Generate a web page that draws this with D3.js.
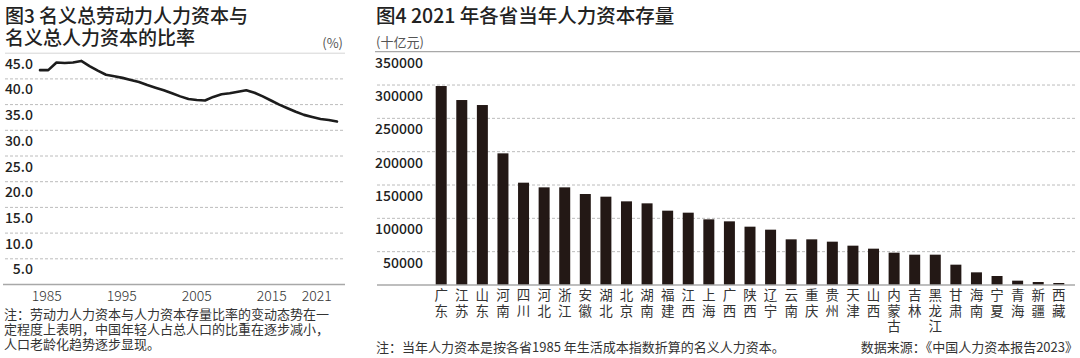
<!DOCTYPE html>
<html><head><meta charset="utf-8">
<script src="https://cdn.jsdelivr.net/npm/d3@7/dist/d3.min.js"></script>
<style>
html,body{margin:0;padding:0;background:#fff;}
svg{display:block;}
text{font-family:"Noto Sans CJK SC","Noto Sans",sans-serif;}
</style></head>
<body>
<svg id="c" width="1080" height="358"></svg>
<script>
// ---- Data: left chart (ratio, %) ----
const years = d3.range(1985, 2022);
const ratio = [41.7,41.7,43.2,43.1,43.2,43.5,42.5,41.6,40.8,40.5,40.2,39.8,39.4,38.8,38.3,37.8,37.2,36.6,36.1,35.9,35.8,36.5,37.0,37.2,37.5,37.8,37.3,36.6,35.8,35.0,34.3,33.6,33.0,32.6,32.2,32.0,31.7];
const leftYTicks = [5,10,15,20,25,30,35,40,45];
const leftXTicks = [1985,1995,2005,2015,2021];
const leftTitle = ["图3 名义总劳动力人力资本与","名义总人力资本的比率"];
const leftNote = ["注：劳动力人力资本与人力资本存量比率的变动态势在一","定程度上表明，中国年轻人占总人口的比重在逐步减小，","人口老龄化趋势逐步显现。"];

// ---- Data: right chart (human capital stock, 十亿元) ----
const provinces = ["广东","江苏","山东","河南","四川","河北","浙江","安徽","湖北","北京","湖南","福建","江西","上海","广西","陕西","辽宁","云南","重庆","贵州","天津","山西","内蒙古","吉林","黑龙江","甘肃","海南","宁夏","青海","新疆","西藏"];
const stock = [298500,277500,270000,197500,153500,146500,146500,136500,132500,125500,122500,111500,108500,98500,95500,87500,83000,68500,68500,65000,59000,54500,48500,45500,45500,30500,19000,13500,6500,4500,3000];
const rightYTicks = [50000,100000,150000,200000,250000,300000,350000];

const svg = d3.select("#c");
const ink = "#222";
const noteFont = "'Liberation Sans','Noto Sans CJK SC',sans-serif";

// ================= LEFT CHART =================
const yL = d3.scaleLinear().domain([0,45]).range([284.5,53.2]);
const xL = d3.scaleLinear().domain([1985,2021]).range([40,337]);
const xLab = d3.scaleLinear().domain([1985,2015]).range([46.7,271.7]);

svg.selectAll("text.tl").data(leftTitle).join("text")
  .attr("x",5).attr("y",(d,i)=>14+i*22.5).attr("dominant-baseline","central")
  .attr("font-size",19).attr("font-weight",500).attr("fill",ink).text(d=>d);
svg.append("text").attr("x",343).attr("y",42.7).attr("text-anchor","end").attr("dominant-baseline","central")
  .attr("font-size",13).attr("fill","#555").text("(%)");

// gridlines
const gL = svg.append("g");
gL.selectAll("line.g").data(leftYTicks).join("line")
  .attr("x1",5).attr("x2",345)
  .attr("y1",d=>yL(d)).attr("y2",d=>yL(d))
  .attr("stroke",d=>d===45?"#d6d6d6":"#bcbcbc")
  .attr("stroke-dasharray",d=>d===45?null:"3,2")
  .attr("stroke-width",1);
gL.selectAll("text.yl").data(leftYTicks).join("text")
  .attr("x",33).attr("y",d=>yL(d)+9.5).attr("text-anchor","end").attr("dominant-baseline","central")
  .attr("font-family","Roboto,sans-serif").attr("font-size",14).attr("font-weight",500).attr("fill",ink)
  .text(d=>d3.format(".1f")(d));
// baseline
svg.append("line").attr("x1",3).attr("x2",345).attr("y1",yL(0)).attr("y2",yL(0))
  .attr("stroke","#a8a8a8").attr("stroke-width",1.5);
// x labels
svg.selectAll("text.xl").data(leftXTicks).join("text")
  .attr("x",d=>xLab(d)).attr("y",295).attr("text-anchor","middle").attr("dominant-baseline","central")
  .attr("font-family","Roboto,sans-serif").attr("font-size",14).attr("font-weight",300).attr("fill","#333")
  .text(d=>d);
// line
svg.append("path").datum(years.map((y,i)=>[y,ratio[i]]))
  .attr("fill","none").attr("stroke","#1c1c1c").attr("stroke-width",2.6)
  .attr("stroke-linejoin","round").attr("stroke-linecap","round")
  .attr("d",d3.line().x(d=>xL(d[0])).y(d=>yL(d[1])));

// left footnote
svg.selectAll("text.nl").data(leftNote).join("text")
  .attr("x",4).attr("y",(d,i)=>313.5+i*15).attr("dominant-baseline","central")
  .attr("font-family",noteFont)
  .attr("font-size",13).attr("fill","#333").text(d=>d);

// ================= RIGHT CHART =================
const yR = d3.scaleLinear().domain([0,350000]).range([285,51.7]);
const xR = d3.scaleBand().domain(provinces).range([435.7,1064.3]).paddingInner(0.466).paddingOuter(0);

svg.append("text").attr("x",376).attr("y",14.3).attr("dominant-baseline","central")
  .attr("font-size",19.5).attr("font-weight",500).attr("fill",ink).text("图4 2021 年各省当年人力资本存量");
svg.append("text").attr("x",376).attr("y",41.7).attr("dominant-baseline","central")
  .attr("font-size",13).attr("fill","#555").text("(十亿元)");

const gR = svg.append("g");
gR.selectAll("line").data(rightYTicks).join("line")
  .attr("x1",d=>d===350000?375:377).attr("x2",d=>d===350000?1080:1075)
  .attr("y1",d=>yR(d)).attr("y2",d=>yR(d))
  .attr("stroke",d=>d===350000?"#a8a8a8":"#bcbcbc")
  .attr("stroke-dasharray",d=>d===350000?null:"3,2")
  .attr("stroke-width",d=>d===350000?1.3:1);
gR.selectAll("text").data(rightYTicks).join("text")
  .attr("x",423).attr("y",d=>yR(d)+10).attr("text-anchor","end").attr("dominant-baseline","central")
  .attr("font-family","Roboto,sans-serif").attr("font-size",14).attr("font-weight",500).attr("fill",ink)
  .text(d=>d);

// bars
svg.selectAll("rect.bar").data(provinces).join("rect")
  .attr("x",d=>xR(d)).attr("width",xR.bandwidth())
  .attr("y",(d,i)=>yR(stock[i])).attr("height",(d,i)=>yR(0)-yR(stock[i]))
  .attr("fill","#231815");
// axis
svg.append("line").attr("x1",377).attr("x2",1075).attr("y1",yR(0)).attr("y2",yR(0))
  .attr("stroke","#a8a8a8").attr("stroke-width",1.5);
// category labels (vertical writing mode, one text per province)
svg.selectAll("text.cat").data(provinces).join("text")
  .attr("class","cat")
  .attr("x",d=>xR(d)+xR.bandwidth()/2).attr("y",288.2)
  .style("writing-mode","vertical-rl").style("text-orientation","upright")
  .attr("letter-spacing",2)
  .attr("font-size",13.5).attr("fill","#333")
  .text(d=>d);

// right footnotes
svg.append("text").attr("x",376).attr("y",346.7).attr("dominant-baseline","central")
  .attr("font-family",noteFont)
  .attr("font-size",13).attr("fill","#333").text("注：当年人力资本是按各省1985 年生活成本指数折算的名义人力资本。");
svg.append("text").attr("x",1078).attr("y",346.7).attr("text-anchor","end").attr("dominant-baseline","central")
  .attr("font-family",noteFont)
  .attr("font-size",13).attr("fill","#333").text("数据来源：《中国人力资本报告2023》");
</script>
</body></html>
